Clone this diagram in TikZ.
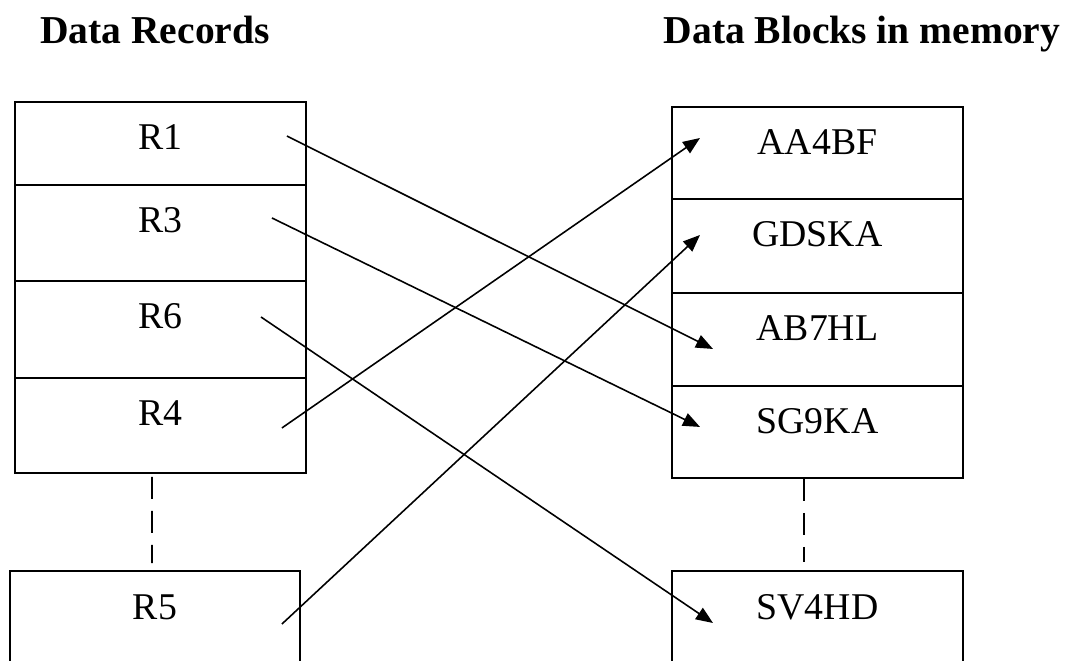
\documentclass[tikz,border=0pt]{standalone}
\usepackage{fontspec}
\setmainfont{Liberation Serif}
\usetikzlibrary{positioning,calc,arrows.meta}

\begin{document}
\begin{tikzpicture}[x=0.02cm,y=-0.02cm]
                        \tikzstyle{cell}=[draw, line width=0.9pt, outer sep=0pt, inner sep=0pt,
                            minimum width=5.82cm, text height=0.96cm, text depth=#1,
                            font=\fontsize{21.5}{26}\selectfont]
                        \tikzstyle{head}=[anchor=base, font=\fontsize{22.5}{27}\selectfont\bfseries]
                        \tikzstyle{link}=[line width=0.9pt, -{Triangle[length=0.34cm,width=0.27cm]}]
                        \tikzstyle{gap}=[line width=0.9pt, dash pattern=on 0.44cm off 0.24cm]
                        \useasboundingbox (0,0) rectangle (1067,660);
                        \clip (0,0) rectangle (1067,660);
                        \node[head] (recs) at (155,43) {Data Records};
                        \node[head] (blocks) at (862,43) {Data Blocks in memory};
                        \node[cell=0.70cm, anchor=north west] (r1) at (15,102) {R1};
                        \node[cell=0.96cm, below=0pt of r1] (r3) {R3};
                        \node[cell=0.98cm, below=0pt of r3] (r6) {R6};
                        \node[cell=0.94cm, below=0pt of r6] (r4) {R4};
                        \node[cell=1.62cm, minimum width=5.8cm, anchor=north west] (r5) at (10,571) {R5};
                        \node[cell=0.88cm, anchor=north west] (aa) at (672,107) {AA4BF};
                        \node[cell=0.92cm, below=0pt of aa] (gd) {GDSKA};
                        \node[cell=0.90cm, below=0pt of gd] (ab) {AB7HL};
                        \node[cell=0.88cm, below=0pt of ab] (sg) {SG9KA};
                        \node[cell=1.62cm, anchor=north west] (sv) at (672,571) {SV4HD};
                        \draw[gap] ($(r4.south)+(-8.5,4)$) -- ($(r5.north)+(-3,-8)$);
                        \draw[gap] ($(sg.south)+(-13.5,1)$) -- ($(sv.north)+(-13.5,-9)$);
                        \draw[link] ($(r1.east)+(-19,-7.5)$) -- ($(ab.west)+(41,9.5)$);
                        \draw[link] ($(r3.east)+(-34,-15)$) -- ($(sg.west)+(28,-5)$);
                        \draw[link] ($(r6.east)+(-45,-12.5)$) -- ($(sv.west)+(41,-12.5)$);
                        \draw[link] ($(r4.east)+(-24,2.5)$) -- ($(aa.west)+(28,-15)$);
                        \draw[link] ($(r5.east)+(-18,-11.5)$) -- ($(gd.west)+(28,-11)$);
\end{tikzpicture}
\end{document}
